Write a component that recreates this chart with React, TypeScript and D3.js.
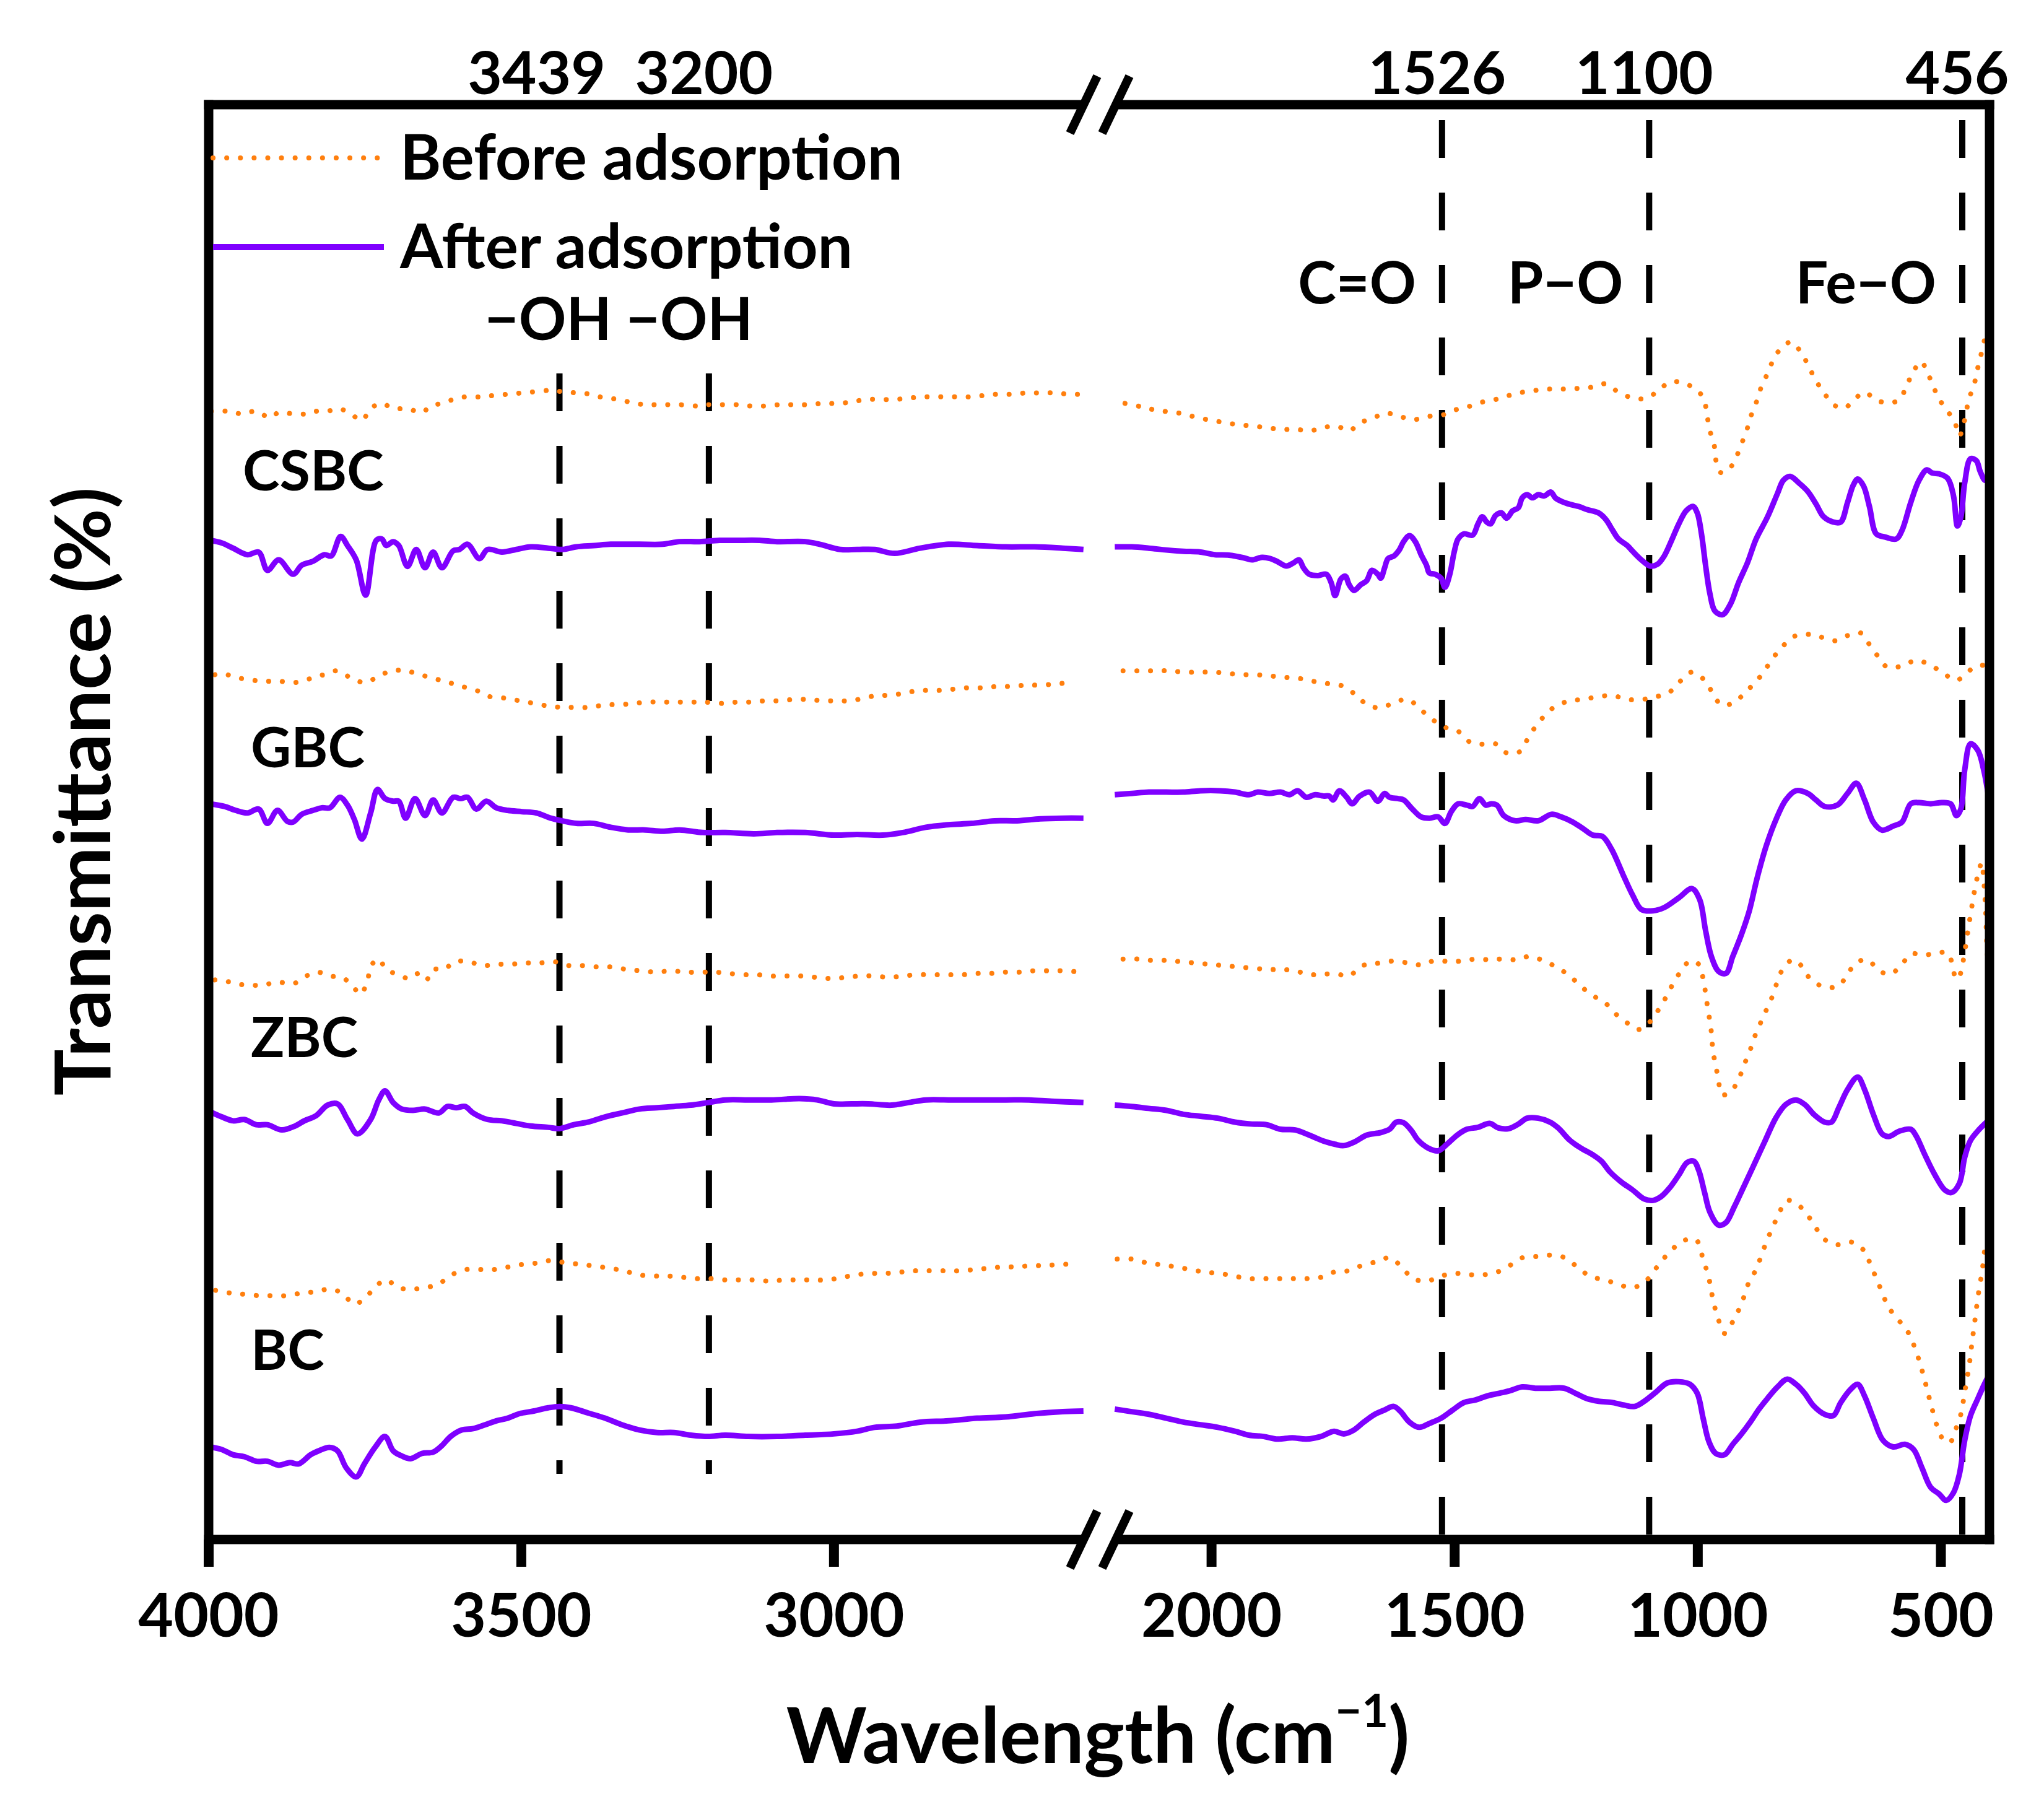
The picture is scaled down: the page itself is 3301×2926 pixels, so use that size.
import * as d3 from 'd3'

// FTIR spectra, [wavenumber (cm-1), transmittance (%, offset per sample)]
const csbcBefore = [
  [3996, 86.5], [3970, 86.5], [3947, 86.3], [3924, 86.5], [3902, 86.0], [3888, 86.4], [3865, 86.3], [3842, 86.3],
  [3828, 86.5], [3810, 86.5], [3792, 86.7], [3773, 86.3], [3755, 85.8], [3741, 86.7], [3723, 87.1], [3705, 86.7],
  [3682, 86.7], [3659, 86.4], [3645, 86.9], [3627, 87.1], [3609, 87.4], [3590, 87.6], [3567, 87.6], [3545, 87.7],
  [3522, 87.8], [3499, 87.9], [3476, 88.0], [3453, 88.1], [3435, 88.0], [3412, 87.9], [3389, 87.8], [3366, 87.5],
  [3343, 87.4], [3320, 87.1], [3297, 87.0], [3274, 87.0], [3247, 87.0], [3219, 86.9], [3201, 87.0], [3178, 87.0],
  [3155, 87.0], [3132, 86.9], [3110, 86.9], [3087, 87.0], [3064, 87.0], [3041, 87.0], [3018, 87.1], [2995, 87.1],
  [2972, 87.2], [2949, 87.4], [2926, 87.4], [2903, 87.4], [2881, 87.5], [2858, 87.6], [2835, 87.6], [2807, 87.6],
  [2784, 87.6], [2761, 87.7], [2739, 87.8], [2716, 87.8], [2693, 87.9], [2670, 87.9], [2647, 87.9], [2624, 87.8],
  [2601, 87.8],
  [2178, 87.1], [2146, 86.85], [2117, 86.6], [2088, 86.45], [2058, 86.3], [2029, 86.0], [1999, 85.8], [1970, 85.6],
  [1940, 85.45], [1911, 85.35], [1881, 85.2], [1852, 85.1], [1825, 85.1], [1797, 85.0], [1770, 85.25], [1742, 85.35],
  [1717, 85.0], [1695, 85.6], [1669, 85.95], [1642, 86.35], [1613, 86.1], [1585, 85.85], [1554, 86.1], [1526, 86.2],
  [1499, 86.6], [1472, 86.85], [1443, 87.2], [1416, 87.4], [1389, 87.7], [1361, 87.95], [1334, 88.1], [1304, 88.2],
  [1275, 88.2], [1246, 88.25], [1216, 88.35], [1189, 88.6], [1161, 87.9], [1131, 87.5], [1104, 87.5], [1078, 88.2],
  [1055, 88.75], [1025, 88.6], [998, 88.0], [986, 87.2], [981, 86.2], [975, 85.0], [966, 83.85], [963, 82.8],
  [953, 81.8], [937, 82.0], [922, 82.9], [910, 84.0], [898, 85.2], [890, 86.2], [878, 87.35], [869, 88.4],
  [857, 89.35], [845, 90.4], [827, 91.4], [807, 91.8], [786, 90.9], [772, 89.95], [757, 88.85], [741, 87.95],
  [721, 87.0], [698, 86.75], [678, 87.4], [657, 87.95], [633, 87.35], [610, 87.15], [586, 87.35], [572, 88.3],
  [559, 89.35], [541, 90.3], [527, 89.4], [515, 88.35], [504, 87.45], [486, 86.5], [471, 85.6], [462, 84.6],
  [452, 85.7], [442, 87.5], [433, 88.35], [423, 90.0], [415, 91.2], [409, 92.2],
]

const csbcAfter = [
  [3998, 76.6], [3979, 76.4], [3961, 76.0], [3938, 75.5], [3920, 75.7], [3906, 74.3], [3888, 75.1], [3865, 74.0],
  [3851, 74.7], [3833, 75.0], [3815, 75.5], [3804, 75.4], [3789, 76.9], [3778, 76.2], [3764, 75.1], [3749, 72.4],
  [3732, 76.6], [3723, 76.7], [3716, 76.2], [3705, 76.5], [3696, 76.2], [3682, 74.6], [3668, 75.9], [3654, 74.5],
  [3641, 75.7], [3627, 74.5], [3609, 75.8], [3599, 75.9], [3586, 76.3], [3567, 75.2], [3554, 75.9], [3531, 75.7],
  [3508, 75.9], [3485, 76.1], [3457, 76.0], [3435, 75.9], [3412, 76.1], [3384, 76.2], [3357, 76.3], [3311, 76.3],
  [3274, 76.3], [3247, 76.5], [3215, 76.5], [3183, 76.6], [3155, 76.6], [3119, 76.6], [3091, 76.5], [3046, 76.5],
  [3023, 76.3], [2990, 75.9], [2963, 75.9], [2935, 75.9], [2903, 75.6], [2862, 76.0], [2817, 76.3], [2771, 76.2],
  [2725, 76.1], [2679, 76.1], [2634, 76.0], [2601, 75.9],
  [2199, 76.1], [2164, 76.1], [2129, 76.0], [2093, 75.86], [2058, 75.76], [2023, 75.7], [1993, 75.5], [1964, 75.46],
  [1934, 75.26], [1917, 75.1], [1896, 75.3], [1879, 75.2], [1864, 74.96], [1846, 74.63], [1832, 74.86], [1820, 75.1],
  [1811, 74.5], [1799, 74.0], [1781, 73.9], [1764, 74.0], [1754, 73.36], [1746, 72.36], [1734, 73.63], [1725, 73.86],
  [1717, 73.2], [1707, 72.76], [1693, 73.2], [1681, 73.5], [1670, 74.3], [1658, 74.0], [1652, 73.7], [1644, 74.5],
  [1637, 75.2], [1625, 75.4], [1614, 75.86], [1605, 76.5], [1593, 76.96], [1581, 76.5], [1569, 75.5], [1558, 74.7],
  [1552, 74.1], [1540, 74.0], [1528, 73.7], [1520, 73.0], [1510, 74.0], [1501, 75.7], [1493, 76.7], [1481, 77.1],
  [1463, 77.0], [1452, 77.86], [1443, 78.4], [1434, 78.0], [1426, 77.86], [1416, 78.5], [1404, 78.7], [1393, 78.3],
  [1381, 78.86], [1369, 79.1], [1361, 79.86], [1351, 80.1], [1340, 79.86], [1328, 80.1], [1316, 80.0], [1302, 80.3],
  [1293, 79.86], [1281, 79.6], [1263, 79.36], [1245, 79.2], [1228, 78.96], [1204, 78.7], [1189, 78.2], [1175, 77.36],
  [1163, 76.7], [1145, 76.2], [1134, 75.76], [1116, 75.1], [1098, 74.63], [1083, 74.76], [1069, 75.4], [1055, 76.5],
  [1039, 77.86], [1024, 78.86], [1010, 79.2], [1001, 78.7], [992, 77.0], [984, 74.7], [975, 72.5], [965, 71.2],
  [949, 70.9], [933, 71.7], [916, 73.36], [898, 74.86], [880, 76.7], [857, 78.36], [836, 80.2], [824, 81.2],
  [810, 81.5], [792, 81.0], [774, 80.36], [757, 79.4], [741, 78.4], [721, 78.0], [706, 78.0], [692, 79.5],
  [680, 80.85], [671, 81.3], [659, 80.76], [647, 79.2], [633, 77.1], [615, 76.86], [592, 76.7], [580, 77.36],
  [562, 79.5], [545, 81.2], [529, 82.0], [518, 81.76], [504, 81.7], [486, 81.35], [474, 80.0], [466, 77.7],
  [459, 78.36], [451, 81.0], [439, 82.86], [427, 82.7], [419, 81.86], [409, 81.2], [403, 81.5],
]

const gbcBefore = [
  [3990, 66.3], [3979, 66.4], [3957, 66.1], [3934, 65.9], [3911, 65.8], [3888, 65.8], [3862, 65.7], [3837, 66.0],
  [3816, 66.3], [3794, 66.6], [3771, 66.0], [3749, 65.7], [3728, 66.2], [3707, 66.6], [3685, 66.6], [3662, 66.3],
  [3639, 66.0], [3616, 65.7], [3595, 65.4], [3572, 65.1], [3549, 64.6], [3526, 64.5], [3503, 64.3], [3480, 64.1],
  [3457, 63.9], [3435, 63.8], [3412, 63.8], [3389, 63.8], [3366, 64.0], [3343, 64.0], [3320, 64.1], [3297, 64.2],
  [3274, 64.2], [3252, 64.2], [3229, 64.2], [3206, 64.2], [3178, 64.1], [3155, 64.2], [3132, 64.2], [3110, 64.3],
  [3087, 64.3], [3064, 64.4], [3041, 64.4], [3018, 64.3], [2995, 64.3], [2972, 64.3], [2945, 64.6], [2922, 64.7],
  [2899, 64.8], [2876, 65.0], [2853, 65.1], [2830, 65.1], [2807, 65.2], [2784, 65.3], [2761, 65.3], [2739, 65.4],
  [2716, 65.4], [2693, 65.5], [2670, 65.5], [2643, 65.6], [2620, 65.7],
  [2182, 66.6], [2150, 66.6], [2117, 66.6], [2088, 66.6], [2058, 66.5], [2026, 66.5], [1997, 66.5], [1967, 66.4],
  [1938, 66.3], [1909, 66.3], [1879, 66.2], [1848, 66.1], [1817, 66.0], [1787, 65.77], [1758, 65.6], [1728, 65.4],
  [1699, 64.6], [1679, 63.97], [1652, 63.77], [1622, 64.2], [1596, 64.4], [1569, 63.6], [1546, 62.87], [1522, 62.3],
  [1493, 61.97], [1467, 61.1], [1440, 60.97], [1416, 61.0], [1393, 60.3], [1366, 60.4], [1351, 61.3], [1334, 62.3],
  [1314, 63.2], [1293, 63.87], [1263, 64.3], [1236, 64.4], [1207, 64.6], [1175, 64.7], [1145, 64.4], [1116, 64.4],
  [1086, 64.6], [1057, 65.0], [1034, 65.87], [1012, 66.5], [986, 65.87], [969, 64.87], [951, 63.97], [924, 64.2],
  [902, 64.97], [880, 65.77], [863, 66.6], [845, 67.6], [827, 68.4], [804, 69.2], [774, 69.4], [748, 69.2],
  [718, 68.9], [692, 69.3], [665, 69.5], [645, 68.5], [627, 67.6], [610, 66.87], [580, 66.97], [551, 67.4],
  [525, 67.1], [498, 66.5], [468, 65.87], [445, 66.5], [427, 66.97], [403, 67.0],
]

const gbcAfter = [
  [3998, 56.4], [3975, 56.2], [3957, 55.9], [3938, 55.7], [3920, 56.0], [3906, 54.9], [3890, 55.9], [3874, 55.05],
  [3865, 55.0], [3851, 55.6], [3833, 55.9], [3819, 56.1], [3806, 56.1], [3790, 56.9], [3778, 56.3], [3767, 55.2],
  [3755, 53.7], [3741, 55.7], [3730, 57.5], [3718, 56.8], [3705, 56.6], [3696, 56.6], [3685, 55.3], [3670, 56.8],
  [3654, 55.5], [3641, 56.7], [3627, 55.7], [3609, 56.9], [3597, 56.8], [3586, 56.9], [3572, 56.0], [3556, 56.6],
  [3540, 56.1], [3522, 55.9], [3499, 55.8], [3476, 55.7], [3453, 55.3], [3435, 55.1], [3412, 54.9], [3384, 54.9],
  [3357, 54.6], [3329, 54.4], [3302, 54.4], [3274, 54.3], [3247, 54.4], [3210, 54.2], [3174, 54.2], [3128, 54.1],
  [3091, 54.2], [3046, 54.2], [3000, 54.0], [2963, 54.05], [2922, 54.0], [2890, 54.2], [2853, 54.6], [2817, 54.8],
  [2780, 54.9], [2743, 55.1], [2707, 55.1], [2670, 55.25], [2634, 55.3], [2601, 55.3],
  [2199, 57.1], [2164, 57.2], [2129, 57.3], [2093, 57.3], [2058, 57.3], [2023, 57.4], [1982, 57.4], [1952, 57.3],
  [1923, 57.1], [1905, 57.3], [1881, 57.2], [1858, 57.3], [1840, 57.1], [1823, 57.4], [1805, 56.9], [1787, 57.1],
  [1770, 57.0], [1758, 57.0], [1750, 56.7], [1737, 57.4], [1722, 56.9], [1711, 56.4], [1695, 57.0], [1675, 57.3],
  [1658, 56.6], [1644, 57.2], [1634, 56.9], [1616, 56.8], [1605, 56.7], [1587, 56.0], [1569, 55.4], [1552, 55.3],
  [1534, 55.4], [1520, 54.9], [1507, 55.8], [1493, 56.4], [1475, 56.3], [1463, 56.2], [1449, 56.8], [1436, 56.3],
  [1425, 56.4], [1413, 56.3], [1399, 55.5], [1375, 55.1], [1354, 55.2], [1328, 55.1], [1301, 55.6], [1281, 55.4],
  [1257, 55.0], [1236, 54.5], [1216, 54.0], [1196, 53.9], [1177, 52.9], [1154, 51.0], [1134, 49.4], [1116, 48.3],
  [1092, 48.2], [1069, 48.45], [1039, 49.2], [1012, 49.9], [996, 49.05], [984, 46.7], [972, 44.7], [957, 43.55],
  [942, 43.4], [928, 44.7], [910, 46.4], [894, 48.2], [878, 50.7], [859, 53.2], [839, 55.2], [819, 56.7],
  [798, 57.4], [774, 57.2], [757, 56.7], [739, 56.2], [713, 56.3], [692, 57.2], [674, 57.98], [657, 56.7],
  [639, 55.0], [621, 54.38], [598, 54.7], [580, 55.0], [562, 56.4], [545, 56.5], [521, 56.4], [498, 56.5],
  [480, 56.4], [468, 55.5], [459, 56.0], [451, 59.0], [439, 61.0], [424, 60.5], [412, 59.0], [403, 57.2],
]

const zbcBefore = [
  [3990, 42.9], [3979, 42.9], [3957, 42.6], [3934, 42.5], [3911, 42.5], [3897, 42.7], [3883, 42.7], [3865, 42.6],
  [3844, 43.2], [3826, 43.5], [3807, 43.2], [3787, 43.1], [3771, 42.5], [3757, 41.8], [3746, 42.9], [3740, 44.0],
  [3728, 44.5], [3716, 43.7], [3696, 43.3], [3679, 43.0], [3664, 43.4], [3652, 42.9], [3641, 43.7], [3624, 43.7],
  [3606, 44.3], [3584, 44.3], [3563, 44.0], [3540, 44.1], [3517, 44.1], [3494, 44.2], [3471, 44.2], [3448, 44.3],
  [3425, 44.0], [3403, 44.0], [3380, 43.9], [3357, 43.9], [3331, 43.7], [3309, 43.6], [3283, 43.5], [3261, 43.6],
  [3238, 43.5], [3215, 43.5], [3192, 43.5], [3169, 43.4], [3146, 43.3], [3123, 43.3], [3100, 43.2], [3077, 43.2],
  [3054, 43.2], [3029, 43.1], [3004, 43.0], [2981, 43.1], [2958, 43.2], [2935, 43.2], [2912, 43.1], [2890, 43.2],
  [2867, 43.3], [2839, 43.3], [2816, 43.3], [2793, 43.3], [2771, 43.4], [2748, 43.4], [2725, 43.5], [2702, 43.5],
  [2679, 43.6], [2656, 43.6], [2634, 43.6], [2606, 43.5],
  [2182, 44.5], [2152, 44.5], [2123, 44.4], [2093, 44.4], [2064, 44.3], [2035, 44.2], [2005, 44.1], [1976, 44.0],
  [1946, 43.9], [1914, 43.8], [1884, 43.7], [1858, 43.7], [1828, 43.6], [1799, 43.3], [1773, 43.35], [1742, 43.35],
  [1717, 43.2], [1693, 43.95], [1675, 44.1], [1652, 44.2], [1625, 44.35], [1596, 44.2], [1567, 44.05], [1540, 44.4],
  [1510, 44.3], [1485, 44.35], [1457, 44.5], [1428, 44.45], [1401, 44.5], [1371, 44.45], [1346, 44.7], [1316, 44.35],
  [1287, 43.8], [1263, 43.2], [1240, 42.4], [1216, 41.7], [1192, 41.2], [1169, 40.3], [1145, 39.6], [1122, 39.1],
  [1098, 39.7], [1081, 40.6], [1065, 41.6], [1051, 42.6], [1034, 43.6], [1016, 44.35], [998, 44.1], [989, 43.0],
  [981, 41.1], [975, 39.7], [971, 38.55], [969, 37.45], [963, 36.35], [957, 35.1], [951, 34.1], [933, 34.3],
  [916, 35.3], [904, 36.45], [892, 37.55], [883, 38.55], [871, 39.6], [859, 40.6], [847, 41.6], [836, 42.8],
  [824, 43.8], [804, 44.45], [786, 43.95], [769, 43.0], [739, 42.35], [710, 42.45], [692, 43.35], [674, 44.2],
  [651, 44.45], [627, 43.6], [604, 43.35], [580, 44.1], [562, 44.9], [535, 44.8], [509, 44.95], [486, 44.95],
  [468, 42.95], [459, 43.45], [453, 44.6], [445, 46.5], [436, 48.6], [429, 50.1], [421, 51.4], [416, 51.9],
  [412, 50.6], [408, 48.3], [406, 46.0], [403, 43.95],
]

const zbcAfter = [
  [3998, 32.8], [3979, 32.4], [3961, 32.1], [3943, 32.2], [3924, 31.8], [3906, 31.8], [3883, 31.4], [3862, 31.7],
  [3847, 32.1], [3828, 32.5], [3810, 33.3], [3794, 33.4], [3778, 32.2], [3762, 31.1], [3741, 32.2], [3728, 33.7],
  [3718, 34.4], [3705, 33.5], [3691, 33.0], [3673, 32.9], [3654, 33.0], [3632, 32.7], [3618, 33.2], [3604, 33.1],
  [3590, 33.2], [3577, 32.7], [3554, 32.2], [3531, 32.1], [3508, 31.9], [3485, 31.7], [3457, 31.6], [3439, 31.5],
  [3416, 31.8], [3393, 32.0], [3366, 32.4], [3339, 32.7], [3311, 33.0], [3283, 33.1], [3256, 33.2], [3229, 33.3],
  [3201, 33.5], [3174, 33.7], [3137, 33.7], [3100, 33.7], [3055, 33.8], [3027, 33.7], [3000, 33.4], [2972, 33.4],
  [2945, 33.4], [2908, 33.3], [2881, 33.5], [2853, 33.7], [2817, 33.7], [2771, 33.7], [2725, 33.7], [2688, 33.7],
  [2652, 33.6], [2601, 33.5],
  [2199, 33.3], [2164, 33.2], [2129, 33.05], [2093, 32.9], [2058, 32.6], [2023, 32.45], [1987, 32.3], [1952, 32.0],
  [1917, 31.85], [1887, 31.8], [1858, 31.45], [1828, 31.4], [1799, 31.0], [1770, 30.55], [1746, 30.3], [1728, 30.2],
  [1705, 30.5], [1681, 31.0], [1652, 31.2], [1634, 31.45], [1620, 32.0], [1605, 31.95], [1589, 31.35], [1575, 30.6],
  [1554, 30.0], [1534, 29.8], [1516, 30.3], [1495, 31.0], [1475, 31.45], [1452, 31.6], [1428, 31.9], [1410, 31.55],
  [1389, 31.5], [1369, 31.85], [1351, 32.3], [1328, 32.3], [1304, 32.0], [1287, 31.55], [1263, 30.6], [1240, 30.0],
  [1216, 29.5], [1198, 29.0], [1181, 28.2], [1157, 27.4], [1134, 26.8], [1110, 26.1], [1092, 26.0], [1075, 26.3],
  [1057, 27.0], [1039, 27.95], [1022, 28.9], [1008, 29.0], [998, 28.3], [986, 26.6], [975, 25.1], [957, 24.1],
  [942, 24.3], [925, 25.5], [906, 27.0], [886, 28.6], [863, 30.45], [839, 32.35], [819, 33.35], [798, 33.7],
  [780, 33.35], [760, 32.55], [739, 32.0], [725, 32.0], [710, 33.1], [692, 34.5], [671, 35.45], [657, 34.5],
  [639, 32.6], [621, 31.1], [607, 30.9], [586, 31.3], [562, 31.45], [551, 30.95], [533, 29.5], [513, 28.0],
  [492, 26.8], [478, 26.6], [462, 27.3], [451, 29.3], [439, 30.6], [421, 31.45], [403, 32.1],
]

const bcBefore = [
  [3989, 19.1], [3966, 18.9], [3943, 18.8], [3920, 18.7], [3897, 18.7], [3874, 18.7], [3851, 18.9], [3828, 19.0],
  [3807, 19.2], [3787, 18.9], [3767, 18.05], [3748, 18.6], [3734, 19.35], [3716, 19.9], [3697, 19.3], [3675, 19.2],
  [3654, 19.3], [3632, 19.6], [3611, 20.3], [3588, 20.7], [3566, 20.7], [3543, 20.7], [3520, 20.9], [3497, 21.1],
  [3474, 21.2], [3451, 21.4], [3428, 21.2], [3405, 21.1], [3382, 20.96], [3359, 20.8], [3336, 20.6], [3313, 20.3],
  [3288, 20.2], [3265, 20.2], [3242, 20.1], [3219, 20.0], [3197, 20.0], [3174, 19.9], [3151, 19.9], [3126, 19.9],
  [3102, 19.8], [3080, 19.9], [3056, 19.9], [3034, 19.9], [3011, 19.9], [2986, 20.1], [2963, 20.3], [2940, 20.4],
  [2917, 20.4], [2894, 20.5], [2871, 20.6], [2849, 20.6], [2821, 20.6], [2798, 20.6], [2775, 20.7], [2752, 20.8],
  [2729, 20.9], [2707, 20.9], [2684, 21.0], [2661, 21.0], [2638, 21.1], [2610, 21.1],
  [2194, 21.5], [2164, 21.5], [2132, 21.2], [2103, 21.06], [2073, 20.9], [2044, 20.7], [2014, 20.5], [1984, 20.4],
  [1954, 20.2], [1925, 20.0], [1896, 20.0], [1864, 20.0], [1834, 20.0], [1805, 20.0], [1775, 20.1], [1748, 20.5],
  [1719, 20.6], [1691, 21.0], [1660, 21.3], [1632, 21.6], [1605, 20.7], [1585, 20.0], [1558, 19.8], [1528, 20.2],
  [1499, 20.4], [1469, 20.3], [1440, 20.3], [1413, 20.5], [1387, 21.0], [1361, 21.6], [1331, 21.7], [1302, 21.8],
  [1273, 21.6], [1248, 20.9], [1222, 20.2], [1192, 19.9], [1165, 19.6], [1137, 19.3], [1110, 19.7], [1090, 20.6],
  [1071, 21.5], [1051, 22.3], [1030, 22.9], [1004, 23.0], [989, 21.5], [977, 20.0], [972, 19.0], [965, 17.8],
  [957, 16.8], [945, 15.8], [928, 16.7], [910, 18.1], [894, 19.8], [880, 20.7], [869, 21.8], [857, 23.0],
  [845, 24.0], [833, 25.0], [816, 26.0], [792, 25.6], [769, 24.6], [739, 23.0], [713, 22.6], [683, 22.8],
  [657, 22.1], [645, 21.1], [627, 19.5], [610, 18.0], [592, 17.0], [574, 16.3], [560, 15.3], [548, 14.1],
  [539, 13.0], [529, 11.6], [518, 10.0], [504, 8.3], [492, 7.5], [480, 7.5], [471, 8.3], [459, 9.6],
  [451, 11.3], [442, 13.3], [436, 15.1], [430, 16.8], [423, 18.8], [415, 20.6], [409, 22.3], [403, 22.8],
]

const bcAfter = [
  [3998, 7.1], [3979, 6.9], [3961, 6.5], [3943, 6.35], [3924, 6.0], [3906, 6.0], [3888, 5.7], [3870, 5.9],
  [3856, 5.8], [3837, 6.5], [3824, 6.8], [3807, 7.06], [3794, 6.8], [3780, 5.5], [3764, 4.8], [3751, 5.8],
  [3734, 7.06], [3718, 7.9], [3705, 6.8], [3691, 6.4], [3677, 6.2], [3659, 6.6], [3641, 6.7], [3627, 7.2],
  [3613, 7.9], [3595, 8.4], [3577, 8.5], [3558, 8.8], [3540, 9.1], [3522, 9.3], [3503, 9.65], [3480, 9.85],
  [3457, 10.1], [3439, 10.2], [3421, 10.1], [3393, 9.7], [3366, 9.3], [3339, 8.8], [3311, 8.4], [3283, 8.2],
  [3256, 8.2], [3229, 8.0], [3201, 7.9], [3174, 8.0], [3137, 7.9], [3091, 7.9], [3046, 8.0], [3000, 8.1],
  [2963, 8.3], [2935, 8.6], [2899, 8.7], [2862, 9.0], [2817, 9.1], [2771, 9.3], [2725, 9.4], [2679, 9.65],
  [2634, 9.8], [2601, 9.85],
  [2199, 10.0], [2164, 9.8], [2129, 9.6], [2093, 9.3], [2058, 9.0], [2023, 8.8], [1987, 8.6], [1952, 8.3],
  [1923, 8.0], [1893, 7.9], [1864, 7.7], [1834, 7.8], [1805, 7.7], [1775, 7.9], [1748, 8.3], [1728, 8.1],
  [1707, 8.4], [1687, 9.0], [1664, 9.6], [1646, 9.9], [1625, 10.2], [1611, 9.8], [1593, 9.0], [1573, 8.6],
  [1552, 8.9], [1528, 9.3], [1505, 9.9], [1481, 10.5], [1457, 10.7], [1434, 11.0], [1410, 11.2], [1387, 11.4],
  [1361, 11.7], [1334, 11.6], [1304, 11.6], [1275, 11.6], [1251, 11.2], [1228, 10.8], [1204, 10.6], [1175, 10.5],
  [1151, 10.3], [1130, 10.2], [1110, 10.6], [1086, 11.3], [1063, 12.0], [1039, 12.1], [1016, 11.9], [1001, 11.2],
  [989, 9.3], [977, 7.5], [963, 6.6], [945, 6.5], [928, 7.3], [910, 8.1], [892, 9.0], [874, 10.0],
  [857, 10.8], [836, 11.7], [816, 12.3], [798, 11.9], [780, 11.2], [763, 10.3], [739, 9.6], [721, 9.5],
  [706, 10.5], [686, 11.5], [671, 11.9], [657, 11.0], [639, 9.3], [619, 7.6], [598, 7.1], [574, 7.3],
  [556, 6.9], [539, 5.5], [521, 4.0], [504, 3.5], [489, 3.0], [474, 3.6], [462, 5.0], [451, 7.6],
  [439, 9.5], [424, 10.8], [412, 11.8], [403, 12.47],
]

const samples = ['CSBC', 'GBC', 'ZBC', 'BC']
const beforeSeries = [csbcBefore, gbcBefore, zbcBefore, bcBefore]
const afterSeries = [csbcAfter, gbcAfter, zbcAfter, bcAfter]
// vertical level (same units as the spectra) of each sample's name
const sampleLabelT = [80.4, 59.2, 37.0, 13.0]

const peaks = [3439, 3200, 1526, 1100, 456]
const bondLabels = ['C=O', 'P\u2212O', 'Fe\u2212O']
const bondPeaks = [1526, 1100, 456]
const ticksLeft = [4000, 3500, 3000]
const ticksRight = [2000, 1500, 1000, 500]
const legendLabels = ['Before adsorption', 'After adsorption']

const W = 3301
const H = 2926
const L = 337, R = 3213, T = 169, B = 2486
const BRK = 1776
const BEFORE_COLOR = '#ff7f0e'
const AFTER_COLOR = '#7f00ff'
const FONT = 'Lato, "Open Sans", sans-serif'

const xLeft = d3.scaleLinear().domain([4000, 2575]).range([L, BRK])
const xRight = d3.scaleLinear().domain([2230, 400]).range([BRK, R])
const y = d3.scaleLinear().domain([0, 110]).range([B, T])
const xAt = (wn: number) => (wn > 2400 ? xLeft(wn) : xRight(wn))

const line = d3.line<number[]>()
  .x(d => xAt(d[0]))
  .y(d => y(d[1]))
  .curve(d3.curveCatmullRom.alpha(0.5))

function paths(data: number[][]) {
  return [data.filter(d => d[0] > 2400), data.filter(d => d[0] <= 2400)].map(seg => line(seg) || '')
}

function BreakMark({ yPos }: { yPos: number }) {
  return (
    <g stroke="#000" strokeWidth={14}>
      {[-26, 26].map(dx => (
        <line key={dx} x1={BRK + dx - 22} y1={yPos + 46} x2={BRK + dx + 22} y2={yPos - 46} />
      ))}
    </g>
  )
}

export default function App() {
  return (
    <svg width={W} height={H} style={{ position: 'absolute', left: 0, top: 0, display: 'block', background: '#fff' }}
      fontFamily={FONT} fontWeight={700}>
      <rect width={W} height={H} fill="#fff" />

      {/* peak guide lines */}
      {peaks.map(p => {
        const left = p > 2400
        return (
          <line key={p} x1={xAt(p)} x2={xAt(p)} y1={left ? 603 : 194} y2={left ? 2380 : B}
            stroke="#000" strokeWidth={10} strokeDasharray="61 56" />
        )
      })}

      {/* spectra */}
      {beforeSeries.map((s, i) => paths(s).map((d, j) => (
        <path key={`b${i}${j}`} d={d} fill="none" stroke={BEFORE_COLOR} strokeWidth={8}
          strokeLinecap="round" strokeDasharray="0.1 22" />
      )))}
      {afterSeries.map((s, i) => paths(s).map((d, j) => (
        <path key={`a${i}${j}`} d={d} fill="none" stroke={AFTER_COLOR} strokeWidth={9}
          strokeLinejoin="round" />
      )))}

      {/* frame with axis break */}
      <g stroke="#000" strokeWidth={15} fill="none" strokeLinecap="square">
        <line x1={L} y1={T} x2={BRK - 30} y2={T} />
        <line x1={BRK + 30} y1={T} x2={R} y2={T} />
        <line x1={L} y1={B} x2={BRK - 30} y2={B} />
        <line x1={BRK + 30} y1={B} x2={R} y2={B} />
        <line x1={L} y1={T} x2={L} y2={B} />
        <line x1={R} y1={T} x2={R} y2={B} />
      </g>
      <BreakMark yPos={T} />
      <BreakMark yPos={B} />

      {/* x ticks */}
      {ticksLeft.map(t => (
        <g key={t}>
          <line x1={xLeft(t)} x2={xLeft(t)} y1={B} y2={B + 44} stroke="#000" strokeWidth={16} />
          <text x={xLeft(t)} y={2643} fontSize={98} textAnchor="middle">{t}</text>
        </g>
      ))}
      {ticksRight.map(t => (
        <g key={t}>
          <line x1={xRight(t)} x2={xRight(t)} y1={B} y2={B + 44} stroke="#000" strokeWidth={16} />
          <text x={xRight(t)} y={2643} fontSize={98} textAnchor="middle">{t}</text>
        </g>
      ))}

      {/* peak positions on top */}
      {peaks.map(p => (
        <text key={p} x={xAt(p) + (p === 3439 ? -37 : -8)} y={152} fontSize={96} textAnchor="middle">{p}</text>
      ))}

      {/* bond labels */}
      <text x={(xLeft(3439) + xLeft(3200)) / 2 - 25} y={549} fontSize={95} textAnchor="middle">{'\u2212OH \u2212OH'}</text>
      {bondLabels.map((b, i) => (
        <text key={b} x={xRight(bondPeaks[i]) - 42} y={490} fontSize={93} textAnchor="end">{b}</text>
      ))}

      {/* sample labels */}
      {samples.map((s, i) => (
        <text key={s} x={i === 0 ? 392 : 405} y={y(sampleLabelT[i])} fontSize={90}>{s}</text>
      ))}

      {/* legend */}
      <line x1={344} x2={614} y1={255} y2={255} stroke={BEFORE_COLOR} strokeWidth={8}
        strokeLinecap="round" strokeDasharray="0.1 22" />
      <line x1={344} x2={620} y1={399} y2={399} stroke={AFTER_COLOR} strokeWidth={10} />
      <text x={646} y={290} fontSize={101}>{legendLabels[0]}</text>
      <text x={646} y={433} fontSize={100}>{legendLabels[1]}</text>

      {/* axis titles */}
      <text x={1773} y={2847} fontSize={124} textAnchor="middle">
        Wavelength (cm<tspan fontSize={74} dy={-58}>{'\u22121'}</tspan><tspan dy={58}>)</tspan>
      </text>
      <text transform="translate(178,1278) rotate(-90)" fontSize={125} textAnchor="middle">Transmittance (%)</text>
    </svg>
  )
}
